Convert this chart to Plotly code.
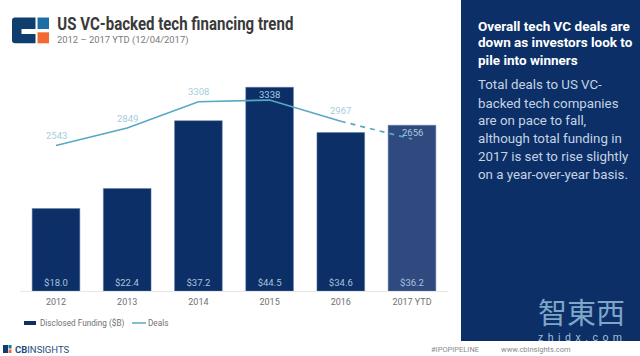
import plotly.graph_objects as go

W, H = 640, 356
years = ["2012", "2013", "2014", "2015", "2016", "2017 YTD"]
funding = [18.0, 22.4, 37.2, 44.5, 34.6, 36.2]
deals = [2543, 2849, 3308, 3338, 2967, 2656]
label_lift = [10, 10, 10, 6, 11, 7]
bar_colors = ["#0b2f66"] * 5 + ["#30497f"]
heading = ["Overall tech VC deals are", "down as investors look to", "pile into winners"]
body = ["Total deals to US VC-", "backed tech companies", "are on pace to fall,", "although total funding in",
        "2017 is set to rise slightly", "on a year-over-year basis."]

PX = lambda x: x / W
PY = lambda y: 1 - y / H


def txt(x, y, s, size, color, font="Roboto", anchor="left", weight=None):
    return dict(x=PX(x), y=PY(y), xref="paper", yref="paper", text=s, showarrow=False,
                xanchor=anchor, yanchor="middle", font=dict(family=font, size=size, color=color, weight=weight))


def box(x0, y0, x1, y1, color):
    return dict(type="rect", xref="paper", yref="paper", x0=PX(x0), x1=PX(x1), y0=PY(y0), y1=PY(y1),
                fillcolor=color, line=dict(width=0), layer="above")


def seg(x0, y0, x1, y1, color, width):
    return dict(type="line", xref="paper", yref="paper", x0=PX(x0), x1=PX(x1), y0=PY(y0), y1=PY(y1),
                line=dict(color=color, width=width))


def rounded_left(x0, y0, x1, y1, r, color):
    p = (f"M{PX(x1)},{PY(y0)} L{PX(x0 + r)},{PY(y0)} Q{PX(x0)},{PY(y0)} {PX(x0)},{PY(y0 + r)} "
         f"L{PX(x0)},{PY(y1 - r)} Q{PX(x0)},{PY(y1)} {PX(x0 + r)},{PY(y1)} L{PX(x1)},{PY(y1)} Z")
    return dict(type="path", xref="paper", yref="paper", path=p, fillcolor=color, line=dict(width=0), layer="above")


fig = go.Figure()
fig.add_trace(go.Bar(x=years, y=funding, name="Disclosed Funding ($B)", width=0.67,
                     marker=dict(color=bar_colors, line=dict(color="#5f7fa8", width=0.5)),
                     text=[f"${v:.1f}" for v in funding], textposition="inside", insidetextanchor="start",
                     textangle=0, insidetextfont=dict(family="Roboto", size=9.5, color="#a9c2da"),
                     yaxis="y", cliponaxis=False))
fig.add_trace(go.Scatter(x=years[:5], y=deals[:5], mode="lines", name="Deals",
                         line=dict(color="#58a9c3", width=1.7), yaxis="y2"))
fig.add_trace(go.Scatter(x=years[4:], y=deals[4:], mode="lines", showlegend=False,
                         line=dict(color="#58a9c3", width=1.7, dash="5px,5px"), yaxis="y2"))

ann = [txt(175, 24, "US VC-backed tech financing trend", 18.5, "#3a3a3a", anchor="center", weight="bold"),
       txt(55, 40.5, "2012 – 2017 YTD (12/04/2017)", 9.4, "#7a7a7a"),
       txt(13, 349, "<b>CB</b>INSIGHTS", 9.5, "#1f4a7d"),
       txt(428.5, 349, "#IPOPIPELINE", 7.5, "#8a8a8a"),
       txt(498.5, 349, "www.cbinsights.com", 7.5, "#8a8a8a"),
       txt(581, 311, "智東西", 29, "#7fa6c8", "Noto Sans CJK TC", "center"),
       txt(580, 337.5, "zhidx.com", 10.5, "#9fc0da", "Roboto", "center"),
       txt(38, 323, "Disclosed Funding ($B)", 8.2, "#707070"),
       txt(146, 323, "Deals", 8.2, "#707070")]
for i, s in enumerate(heading):
    ann.append(txt(476, [25.5, 42.5, 59.5][i], f"<b>{s}</b>", 13.5, "#ffffff"))
for i, s in enumerate(body):
    ann.append(txt(476, [85, 103, 120.5, 138.5, 156, 174][i], s, 13.3, "#c6d3e4"))
for i, (d, lift) in enumerate(zip(deals, label_lift)):
    ann.append(dict(x=i, y=d, xref="x", yref="y2", text=str(d), showarrow=False, yshift=lift,
                    xanchor="center", yanchor="middle",
                    font=dict(family="Roboto", size=9.5, color="#a5cde0")))

shapes = [
    box(461, 0, 640, 341, "#0b2f66"),
    rounded_left(12, 17.5, 35.5, 43.3, 3, "#0f3d6e"), box(21.5, 29, 36, 34, "#ffffff"),
    box(37.5, 17.5, 49, 29, "#1c6ea4"), box(37.5, 32.3, 49, 43.3, "#f26a32"),
    box(24, 321, 36, 325, "#0b2f66"), seg(132, 323, 146, 323, "#58a9c3", 1.5),
    box(3, 345, 8, 353, "#0f3d6e"), box(8.5, 345, 11.5, 348.5, "#1c6ea4"), box(8.5, 349.5, 11.5, 353, "#f26a32"),
]

fig.update_layout(
    width=W, height=H, margin=dict(l=0, r=0, t=0, b=0), paper_bgcolor="#ffffff", plot_bgcolor="#ffffff",
    bargap=0.33, showlegend=False,
    xaxis=dict(type="category", categoryorder="array", categoryarray=years, range=[-0.5, 5.5],
               domain=[PX(20.4), PX(447.6)], showgrid=False, zeroline=False, showline=True, linecolor="#e6e6e6",
               linewidth=1, ticks="", ticklabelstandoff=2, tickfont=dict(family="Roboto", size=9, color="#707070")),
    yaxis=dict(domain=[PY(291), PY(41)], range=[0, 54.6], visible=False),
    yaxis2=dict(domain=[PY(291), PY(41)], range=[0, 4370], overlaying="y", visible=False),
    annotations=ann, shapes=shapes,
)
post = """
document.body.style.margin='0';document.body.style.overflow='hidden';
document.querySelectorAll('.annotation-text').forEach(function(t){
  if(t.textContent.indexOf('US VC-backed')===0){t.setAttribute('textLength','236');t.setAttribute('lengthAdjust','spacingAndGlyphs');}
  if(t.textContent==='zhidx.com'){t.setAttribute('textLength','84');t.setAttribute('lengthAdjust','spacing');}
});
"""
fig.write_html("out.html", config={"displayModeBar": False}, post_script=post)
